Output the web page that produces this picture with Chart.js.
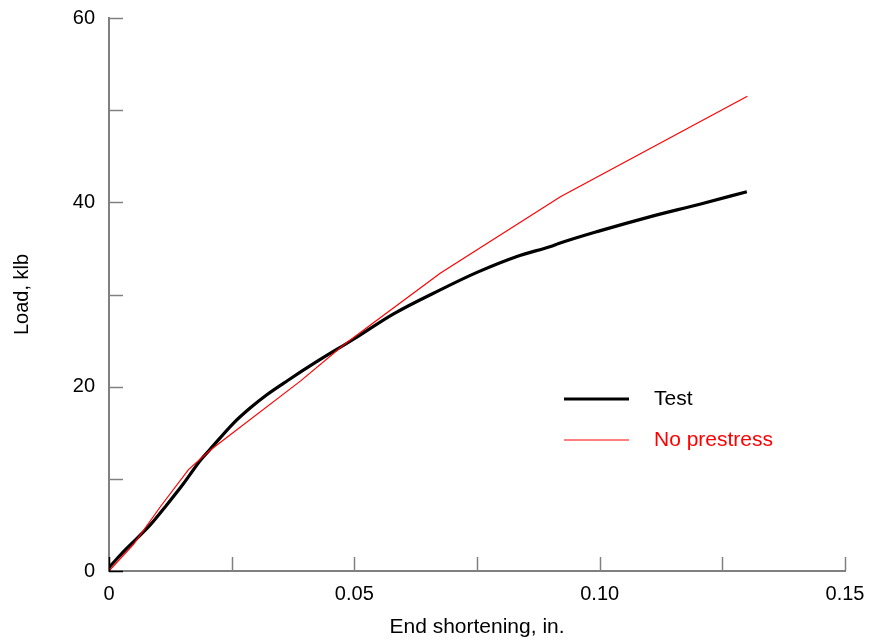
<!DOCTYPE html>
<html>
<head>
<meta charset="utf-8">
<script src="https://cdn.jsdelivr.net/npm/chart.js@4.4.1/dist/chart.umd.min.js"></script>
<style>
  html, body { margin: 0; padding: 0; background: #fff; }
  #wrap { width: 870px; height: 644px; }
</style>
</head>
<body>
<div id="wrap"><canvas id="chart" width="870" height="644"></canvas></div>
<script>
// Data
const testShortening = [0, 0.0036, 0.0084, 0.0118, 0.0152, 0.0186, 0.0206, 0.0253, 0.0287, 0.0321, 0.0365, 0.042, 0.05, 0.058, 0.0675, 0.075, 0.083, 0.0905, 0.0915, 0.1, 0.11, 0.1204, 0.13];
const testLoad = [0.4, 2.45, 5.0, 7.2, 9.5, 12.0, 13.2, 16.0, 17.65, 19.1, 20.7, 22.6, 25.2, 27.9, 30.5, 32.4, 34.1, 35.3, 35.5, 36.9, 38.4, 39.8, 41.15];

const noPrestressShortening = [0, 0.005, 0.0105, 0.0162, 0.0206, 0.039, 0.048, 0.0675, 0.092, 0.1301];
const noPrestressLoad = [0, 2.9, 7.0, 11.0, 13.1, 20.6, 24.6, 32.3, 40.6, 51.5];

const xTicks = [0, 0.025, 0.05, 0.075, 0.1, 0.125, 0.15];
const yTicks = [0, 10, 20, 30, 40, 50, 60];
const xLabelled = [0, 0.05, 0.1, 0.15];
const yLabelled = [0, 20, 40, 60];

const seriesNames = ['Test', 'No prestress'];

const toPoints = (xs, ys) => xs.map((x, i) => ({ x, y: ys[i] }));

const FONT = 'Liberation Sans, Arial, sans-serif';
const AXIS_GREY = '#808080';

// Tick marks point into the plot area, so draw them ourselves
const inwardTicks = {
  id: 'inwardTicks',
  afterDatasetsDraw(chart) {
    const { ctx, chartArea, scales } = chart;
    const len = 14;
    ctx.save();
    ctx.lineWidth = 1.5;
    yTicks.forEach(v => {
      const py = Math.round(scales.y.getPixelForValue(v)) + 0.5;
      ctx.strokeStyle = v === 0 ? '#000' : AXIS_GREY;
      ctx.beginPath();
      ctx.moveTo(chartArea.left, py);
      ctx.lineTo(chartArea.left + len, py);
      ctx.stroke();
    });
    xTicks.forEach(v => {
      const px = Math.round(scales.x.getPixelForValue(v)) + 0.5;
      ctx.strokeStyle = v === 0 ? '#000' : AXIS_GREY;
      ctx.beginPath();
      ctx.moveTo(px, chartArea.bottom);
      ctx.lineTo(px, chartArea.bottom - len);
      ctx.stroke();
    });
    ctx.restore();
  }
};

// Legend sits inside the plot, lower right
const innerLegend = {
  id: 'innerLegend',
  afterDraw(chart) {
    const { ctx } = chart;
    const rows = [
      { y: 399, color: '#000', width: 3 },
      { y: 440, color: '#ff0000', width: 1 }
    ];
    ctx.save();
    ctx.font = '21px ' + FONT;
    ctx.textBaseline = 'middle';
    ctx.textAlign = 'left';
    rows.forEach((r, i) => {
      ctx.strokeStyle = r.color;
      ctx.lineWidth = r.width;
      ctx.beginPath();
      ctx.moveTo(564, r.y);
      ctx.lineTo(629, r.y);
      ctx.stroke();
      ctx.fillStyle = r.color;
      ctx.fillText(seriesNames[i], 654, r.y);
    });
    ctx.restore();
  }
};

new Chart(document.getElementById('chart'), {
  type: 'line',
  data: {
    datasets: [
      {
        label: seriesNames[1],
        data: toPoints(noPrestressShortening, noPrestressLoad),
        borderColor: '#ff0000',
        borderWidth: 1.2,
        pointRadius: 0,
        tension: 0
      },
      {
        label: seriesNames[0],
        data: toPoints(testShortening, testLoad),
        borderColor: '#000000',
        borderWidth: 3.2,
        pointRadius: 0,
        cubicInterpolationMode: 'monotone'
      }
    ]
  },
  options: {
    responsive: false,
    animation: false,
    layout: { padding: { top: 18, right: 25, left: 6, bottom: 0 } },
    plugins: {
      legend: { display: false },
      tooltip: { enabled: false }
    },
    scales: {
      x: {
        type: 'linear',
        min: 0,
        max: 0.15,
        afterBuildTicks: s => { s.ticks = xTicks.map(v => ({ value: v })); },
        afterFit: s => { s.height = 73; s.paddingLeft = 0; s.paddingRight = 0; },
        grid: { drawOnChartArea: false, drawTicks: false },
        border: { color: AXIS_GREY, width: 2 },
        ticks: {
          color: '#000',
          font: { family: FONT, size: 20 },
          padding: 11,
          maxRotation: 0,
          autoSkip: false,
          callback: v => {
            if (!xLabelled.some(t => Math.abs(t - v) < 1e-9)) return '';
            return v === 0 ? '0' : v.toFixed(2);
          }
        },
        title: {
          display: true,
          text: 'End shortening, in.',
          color: '#000',
          font: { family: FONT, size: 21 },
          padding: { top: 17 }
        }
      },
      y: {
        type: 'linear',
        min: 0,
        max: 60,
        afterBuildTicks: s => { s.ticks = yTicks.map(v => ({ value: v })); },
        afterFit: s => { s.width = 103; s.paddingTop = 0; s.paddingBottom = 0; },
        grid: { drawOnChartArea: false, drawTicks: false },
        border: { color: AXIS_GREY, width: 2 },
        ticks: {
          color: '#000',
          font: { family: FONT, size: 20 },
          padding: 14,
          autoSkip: false,
          callback: v => (yLabelled.includes(v) ? String(v) : '')
        },
        title: {
          display: true,
          text: 'Load, klb',
          color: '#000',
          font: { family: FONT, size: 20 },
          padding: { bottom: 9 }
        }
      }
    }
  },
  plugins: [inwardTicks, innerLegend]
});
</script>
</body>
</html>
